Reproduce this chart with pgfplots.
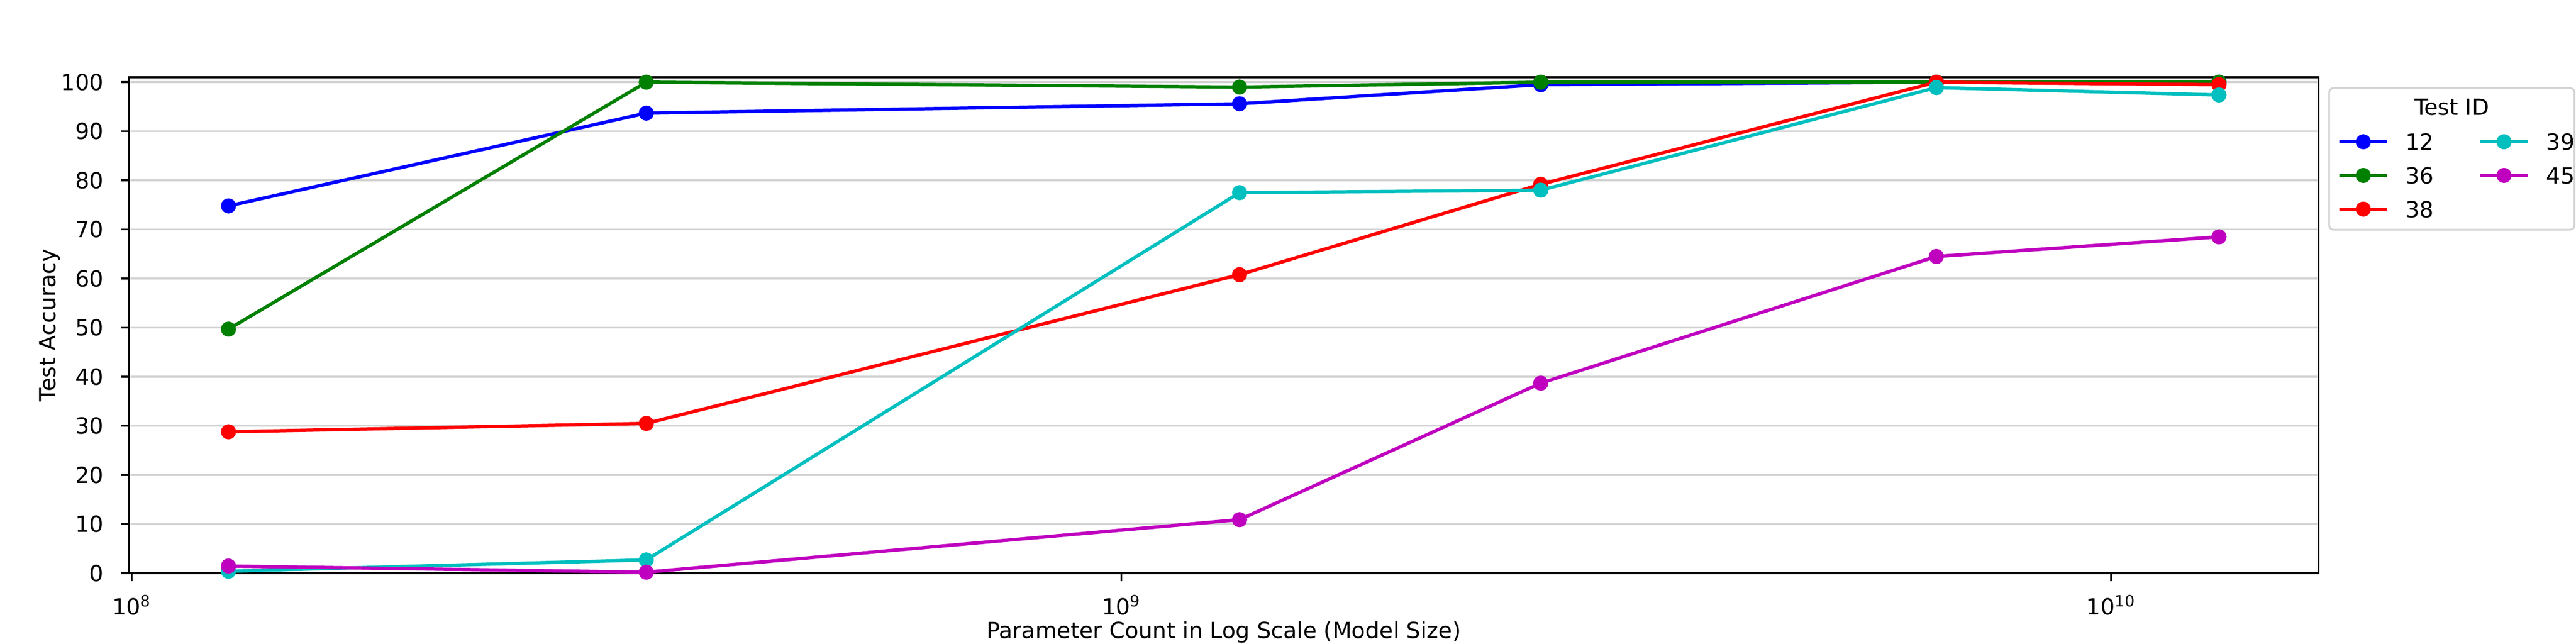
\documentclass[border=0pt]{standalone}
\usepackage{fontspec}
\setmainfont{DejaVu Sans}
\setsansfont{DejaVu Sans}
\usepackage{pgfplots}
\pgfplotsset{compat=1.18}
\definecolor{mplgreen}{rgb}{0,0.5,0}
\definecolor{mplcyan}{rgb}{0,0.75,0.75}
\definecolor{mplmag}{rgb}{0.75,0,0.75}
\definecolor{gridc}{RGB}{211,211,211}
\definecolor{legedge}{RGB}{210,210,210}
\begin{document}
\begin{tikzpicture}
\begin{axis}[
  name=ax,
  scale only axis,
  width=982.88pt, height=222.59pt,
  xmode=log, log basis x=10,
  xmin=9.931e7, xmax=1.620e10,
  ymin=0, ymax=101,
  ytick={0,10,20,30,40,50,60,70,80,90,100},
  xtick={1e8,1e9,1e10},
  xticklabels={10\textsuperscript{8},10\textsuperscript{9},10\textsuperscript{10}},
  /pgf/number format/assume math mode=true,
  tick align=outside,
  xtick pos=bottom, ytick pos=left,
  major tick length=3.5pt, minor tick length=2pt,
  every tick/.style={black, line width=0.8pt},
  every minor tick/.style={black, line width=0.6pt},
  axis line style={line width=0.8pt},
  ymajorgrids, grid style={gridc, line width=0.8pt},
  xticklabel style={anchor=base, inner sep=0pt, yshift=-15.2pt},
  yticklabel style={anchor=east, inner sep=0pt, xshift=-7.64pt},
  every axis x label/.style={at={(axis description cs:0.5,-0.1320)}, anchor=base, inner sep=0pt},
  every axis y label/.style={at={(axis description cs:-0.03123,0.5)}, rotate=90, anchor=south, inner sep=0pt},
  xlabel={Parameter Count in Log Scale (Model Size)},
  ylabel={Test Accuracy},
  every axis plot/.append style={line width=1.5pt, mark=*, mark size=3.1pt, mark options={solid, line width=0.6pt}},
  legend image code/.code={\draw[#1, mark repeat=2, mark phase=2] plot coordinates {(0pt,0pt) (10.72pt,0pt) (21.44pt,0pt)};},
  legend columns=2,
  legend cell align=left,
  legend style={at={(rel axis cs:1.00858,0.88755)}, anchor=north west, draw=none, fill=none, inner sep=0pt,
    row sep=7.7pt, column sep=0pt,
    nodes={inner sep=0pt, text depth=0pt},
    /tikz/every odd column/.append style={column sep=7.5pt},
    /tikz/every even column/.append style={column sep=20pt}},
]
% Test 12
\addplot[blue, forget plot] coordinates {(1.252e8,74.8) (3.31e8,93.7) (1.316e9,95.6) (2.652e9,99.5) (6.658e9,100) (1.285e10,100)};
% Test 36
\addplot[mplgreen, forget plot] coordinates {(1.252e8,49.7) (3.31e8,100) (1.316e9,99.0) (2.652e9,100) (6.658e9,100) (1.285e10,100)};
% Test 38
\addplot[red, forget plot] coordinates {(1.252e8,28.8) (3.31e8,30.5) (1.316e9,60.8) (2.652e9,79.2) (6.658e9,100) (1.285e10,99.5)};
% Test 39
\addplot[mplcyan, forget plot] coordinates {(1.252e8,0.4) (3.31e8,2.7) (1.316e9,77.5) (2.652e9,78.0) (6.658e9,98.9) (1.285e10,97.4)};
% Test 45
\addplot[mplmag, forget plot] coordinates {(1.252e8,1.45) (3.31e8,0.2) (1.316e9,10.9) (2.652e9,38.7) (6.658e9,64.5) (1.285e10,68.5)};
% legend in matplotlib column order
\addlegendimage{blue, line width=1.5pt, mark=*, mark size=3.1pt, mark options={solid, line width=0.6pt}}
\addlegendentry{12}
\addlegendimage{mplcyan, line width=1.5pt, mark=*, mark size=3.1pt, mark options={solid, line width=0.6pt}}
\addlegendentry{39}
\addlegendimage{mplgreen, line width=1.5pt, mark=*, mark size=3.1pt, mark options={solid, line width=0.6pt}}
\addlegendentry{36}
\addlegendimage{mplmag, line width=1.5pt, mark=*, mark size=3.1pt, mark options={solid, line width=0.6pt}}
\addlegendentry{45}
\addlegendimage{red, line width=1.5pt, mark=*, mark size=3.1pt, mark options={solid, line width=0.6pt}}
\addlegendentry{38}
\coordinate (legSW) at (rel axis cs:1.00490,0.69264);
\coordinate (legNE) at (rel axis cs:1.11691,0.97835);
\coordinate (legT) at (rel axis cs:1.06091,0.9232);
\coordinate (bbSW) at (rel axis cs:-0.058824,-0.142857);
\coordinate (bbNE) at (rel axis cs:1.117647,1.155844);
\end{axis}
\draw[legedge, line width=0.8pt, rounded corners=2pt] (legSW) rectangle (legNE);
\node[anchor=base, inner sep=0pt] at (legT) {Test ID};
\pgfresetboundingbox
\useasboundingbox (bbSW) rectangle (bbNE);
\end{tikzpicture}
\end{document}
